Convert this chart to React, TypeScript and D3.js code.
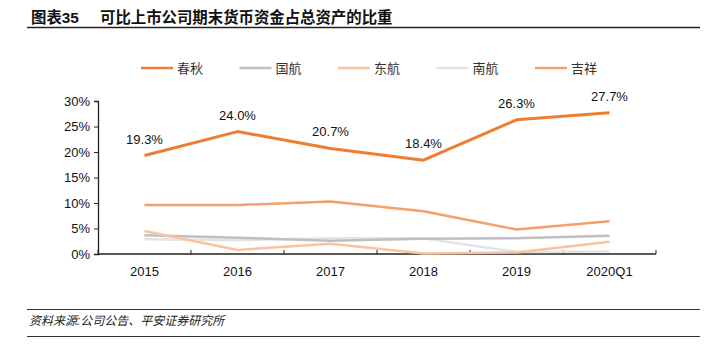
import React, { useEffect, useRef } from "react";
import * as d3 from "d3";

const categories = ["2015", "2016", "2017", "2018", "2019", "2020Q1"];
const seriesNames = ["春秋", "国航", "东航", "南航", "吉祥"];
const seriesColors = ["#ED7D31", "#BFBFBF", "#F8C3A0", "#E4E4E4", "#F4A06A"];
const chunqiu = [19.3, 24.0, 20.7, 18.4, 26.3, 27.7];
const guohang = [3.7, 3.2, 2.6, 3.0, 3.1, 3.6];
const donghang = [4.5, 0.8, 2.0, 0.1, 0.3, 2.4];
const nanhang = [2.9, 2.7, 3.1, 3.1, 0.4, 0.5];
const jixiang = [9.6, 9.6, 10.3, 8.4, 4.8, 6.4];
const yTicks = [0, 5, 10, 15, 20, 25, 30];

const W = 707;
const H = 353;
const cjk = "'Liberation Sans', Arial, 'Noto Sans CJK SC', sans-serif";

export default function App() {
  const svgRef = useRef<SVGSVGElement>(null);

  useEffect(() => {
    const svg = d3.select(svgRef.current);
    svg.selectAll("*").remove();

    const margin = { left: 98, right: 51, top: 101, bottom: 99 };
    const x = d3
      .scaleBand()
      .domain(categories)
      .range([margin.left, W - margin.right]);
    const y = d3
      .scaleLinear()
      .domain([0, 30])
      .range([H - margin.bottom, margin.top]);

    svg.append("rect").attr("width", W).attr("height", H).attr("fill", "#fff");

    // title
    svg
      .append("text")
      .attr("x", 31)
      .attr("y", 23)
      .attr("font-family", cjk)
      .attr("font-size", 15.4)
      .attr("font-weight", "bold")
      .attr("fill", "#111")
      .text("图表35");
    svg
      .append("text")
      .attr("x", 100)
      .attr("y", 23)
      .attr("font-family", cjk)
      .attr("font-size", 15.4)
      .attr("font-weight", "bold")
      .attr("fill", "#111")
      .text("可比上市公司期末货币资金占总资产的比重");
    svg
      .append("line")
      .attr("x1", 27)
      .attr("x2", 700)
      .attr("y1", 27.5)
      .attr("y2", 27.5)
      .attr("stroke", "#222")
      .attr("stroke-width", 1.5);

    // footer
    svg
      .append("line")
      .attr("x1", 27)
      .attr("x2", 700)
      .attr("y1", 309.5)
      .attr("y2", 309.5)
      .attr("stroke", "#333")
      .attr("stroke-width", 1);
    svg
      .append("text")
      .attr("x", 29)
      .attr("y", 325)
      .attr("font-family", cjk)
      .attr("font-size", 12)
      .attr("font-style", "italic")
      .attr("fill", "#222")
      .text("资料来源:公司公告、平安证券研究所");
    svg
      .append("line")
      .attr("x1", 27)
      .attr("x2", 700)
      .attr("y1", 336.5)
      .attr("y2", 336.5)
      .attr("stroke", "#333")
      .attr("stroke-width", 1);

    // legend
    const legend = svg.append("g").attr("transform", "translate(141,68)");
    seriesNames.forEach((name, i) => {
      const g = legend.append("g").attr("transform", `translate(${i * 98.5},0)`);
      g.append("line")
        .attr("x1", 0)
        .attr("x2", 32)
        .attr("stroke", seriesColors[i])
        .attr("stroke-width", 2.5);
      g.append("text")
        .attr("x", 36)
        .attr("y", 5)
        .attr("font-family", cjk)
        .attr("font-size", 13)
        .attr("fill", "#333")
        .text(name);
    });

    // axes
    const yAxis = svg
      .append("g")
      .attr("transform", `translate(${margin.left},0)`)
      .call(
        d3
          .axisLeft(y)
          .tickValues(yTicks)
          .tickSize(4)
          .tickFormat((d) => `${d}%`)
      );
    yAxis.select(".domain").attr("stroke", "#222").attr("stroke-width", 1.3);
    yAxis.selectAll(".tick line").attr("stroke", "#222");
    yAxis
      .selectAll("text")
      .attr("font-family", cjk)
      .attr("font-size", 13)
      .attr("fill", "#111")
      .attr("x", -8);

    const bounds = categories.map((c) => x(c) as number).concat([W - margin.right]);
    const xAxis = svg
      .append("g")
      .attr("transform", `translate(0,${y(0)})`);
    xAxis
      .append("line")
      .attr("x1", margin.left)
      .attr("x2", W - margin.right)
      .attr("stroke", "#222")
      .attr("stroke-width", 1.3);
    xAxis
      .selectAll("line.tk")
      .data(bounds)
      .join("line")
      .attr("class", "tk")
      .attr("x1", (d) => d)
      .attr("x2", (d) => d)
      .attr("y1", 0)
      .attr("y2", -4)
      .attr("stroke", "#222");
    xAxis
      .selectAll("text.lab")
      .data(categories)
      .join("text")
      .attr("class", "lab")
      .attr("x", (d) => (x(d) as number) + x.bandwidth() / 2)
      .attr("y", 22)
      .attr("text-anchor", "middle")
      .attr("font-family", cjk)
      .attr("font-size", 13)
      .attr("fill", "#111")
      .text((d) => d);

    // lines
    const allSeries = [chunqiu, guohang, donghang, nanhang, jixiang];
    const line = d3
      .line<number>()
      .x((_, i) => (x(categories[i]) as number) + x.bandwidth() / 2)
      .y((d) => y(d));
    const drawOrder = [3, 1, 2, 4, 0];
    drawOrder.forEach((si) => {
      svg
        .append("path")
        .datum(allSeries[si])
        .attr("d", line)
        .attr("fill", "none")
        .attr("stroke", seriesColors[si])
        .attr("stroke-width", si === 0 ? 3 : 2.5)
        .attr("stroke-linejoin", "round");
    });

    // labels
    svg
      .selectAll("text.val")
      .data(chunqiu)
      .join("text")
      .attr("class", "val")
      .attr("x", (_, i) => (x(categories[i]) as number) + x.bandwidth() / 2)
      .attr("y", (d) => y(d) - 12)
      .attr("text-anchor", "middle")
      .attr("font-family", cjk)
      .attr("font-size", 13)
      .attr("fill", "#111")
      .text((d) => `${d.toFixed(1)}%`);
  }, []);

  return (
    <svg
      ref={svgRef}
      width={W}
      height={H}
      style={{ position: "absolute", left: 0, top: 0 }}
    />
  );
}
